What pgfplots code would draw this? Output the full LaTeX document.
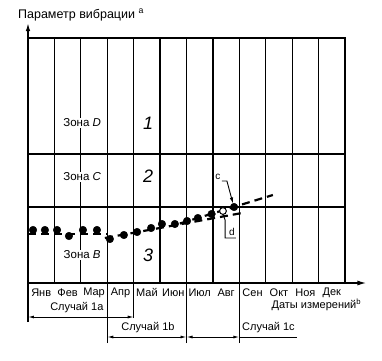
\documentclass[border=0pt]{standalone}
\usepackage{pgfplots}
\pgfplotsset{compat=1.18}
\usepackage{fontspec}
\setmainfont{Liberation Sans}
\usetikzlibrary{arrows.meta}
\begin{document}
\fontsize{11}{13}\selectfont
\begin{tikzpicture}
\path[use as bounding box] (-28pt,-77pt) rectangle (354pt,283pt);
\begin{axis}[at={(0pt,0pt)}, anchor=south west, scale only axis,
  width=317pt, height=245pt, xmin=0, xmax=12, ymin=0, ymax=24.5,
  hide axis, clip=false]
% grid
\draw[line width=1.3pt] (axis cs:0,24.5) -- (axis cs:12,24.5) -- (axis cs:12,0);
\draw[line width=1.2pt] (axis cs:1,0) -- (axis cs:1,24.5);
\draw[line width=1.2pt] (axis cs:2,0) -- (axis cs:2,24.5);
\draw[line width=1.2pt] (axis cs:3,-6) -- (axis cs:3,24.5);
\draw[line width=1.2pt] (axis cs:4,-3.5) -- (axis cs:4,24.5);
\draw[line width=1.2pt] (axis cs:5,0) -- (axis cs:5,24.5);
\draw[line width=1.2pt] (axis cs:6,-6) -- (axis cs:6,24.5);
\draw[line width=1.2pt] (axis cs:7,0) -- (axis cs:7,24.5);
\draw[line width=1.2pt] (axis cs:8,-6) -- (axis cs:8,24.5);
\draw[line width=1.2pt] (axis cs:9,0) -- (axis cs:9,24.5);
\draw[line width=1.2pt] (axis cs:10,0) -- (axis cs:10,24.5);
\draw[line width=1.2pt] (axis cs:11,0) -- (axis cs:11,24.5);
\draw[line width=1.2pt] (axis cs:0,12.9) -- (axis cs:12,12.9);
\draw[line width=1.2pt] (axis cs:0,7.6) -- (axis cs:12,7.6);
\draw[line width=1.2pt] (axis cs:0,-3.9) -- (axis cs:0,0);
% axes with arrows
\draw[line width=1.4pt, -{Latex[length=9pt,width=5pt]}] (axis cs:0,0) -- (axis cs:12.81,0);
\draw[line width=1.4pt, -{Latex[length=8pt,width=4.5pt]}] (axis cs:0,0) -- (axis cs:0,26.0);
% zone labels
\node[fill=white, inner sep=1pt, font=\fontsize{11.5}{13}\selectfont] at (axis cs:2.05,16.0) {Зона \textit{D}};
\node[fill=white, inner sep=1pt, font=\fontsize{11.5}{13}\selectfont] at (axis cs:2.05,10.6) {Зона \textit{C}};
\node[fill=white, inner sep=1pt, font=\fontsize{11.5}{13}\selectfont] at (axis cs:2.05,2.8) {Зона \textit{B}};
\node[font=\fontsize{18}{18}\selectfont\itshape] at (axis cs:4.55,16.0) {1};
\node[font=\fontsize{18}{18}\selectfont\itshape] at (axis cs:4.55,10.7) {2};
\node[font=\fontsize{18}{18}\selectfont\itshape] at (axis cs:4.55,2.8) {3};
% trend lines
\addplot[black, line width=2.2pt, dash pattern=on 8pt off 5pt] coordinates {(0,4.9) (3.0,4.9)};
\addplot[black, line width=2.2pt, dash pattern=on 8pt off 5pt] coordinates {(2.91,4.5) (8.1,7.0)};
\addplot[black, line width=2.2pt, dash pattern=on 8pt off 5pt] coordinates {(5.75,5.95) (9.27,8.8)};
% measurements
\addplot[only marks, mark=*, mark size=3.8pt, black] coordinates {
(0.19,5.3) (0.64,5.3) (1.10,5.3) (1.55,4.7) (2.08,5.3) (2.61,5.3)
(3.10,4.4) (3.63,4.8) (4.13,5.1) (4.66,5.5) (5.07,5.9) (5.56,5.9)
(6.02,6.2) (6.43,6.5) (6.95,6.9) (7.80,7.6)};
\addplot[only marks, mark=*, mark size=3.4pt, black, line width=1pt, mark options={fill=white}] coordinates {(7.38,7.2)};
% annotations c, d
\node[font=\fontsize{10}{10}\selectfont] at (axis cs:7.19,10.6) {c};
\draw[line width=0.9pt, -{Latex[length=6pt,width=3.5pt]}] (axis cs:7.34,10.2) -- (axis cs:7.53,10.2) -- (axis cs:7.76,7.95);
\draw[line width=0.9pt] (axis cs:7.38,6.9) -- (axis cs:7.46,6.3) -- (axis cs:7.46,4.5) -- (axis cs:7.87,4.5);
\node[font=\fontsize{10}{10}\selectfont] at (axis cs:7.72,5.1) {d};
% month labels
\node at (axis cs:0.5,-0.95) {Янв};
\node at (axis cs:1.5,-0.95) {Фев};
\node at (axis cs:2.5,-0.95) {Мар};
\node at (axis cs:3.5,-0.95) {Апр};
\node at (axis cs:4.5,-0.95) {Май};
\node at (axis cs:5.5,-0.95) {Июн};
\node at (axis cs:6.5,-0.95) {Июл};
\node at (axis cs:7.5,-0.95) {Авг};
\node at (axis cs:8.5,-0.95) {Сен};
\node at (axis cs:9.5,-0.95) {Окт};
\node at (axis cs:10.5,-0.95) {Ноя};
\node at (axis cs:11.5,-0.95) {Дек};
\node[anchor=east, inner sep=0pt] at (axis cs:12.62,-2.15) {Даты измерений$^{\mathrm{b}}$};
\node[anchor=west, inner sep=0pt, font=\fontsize{12.5}{14}\selectfont] at (axis cs:-0.38,26.8) {Параметр вибрации $^{\mathrm{a}}$};
% cases
\draw[line width=0.9pt, {Latex[length=6pt,width=3pt]}-{Latex[length=6pt,width=3pt]}] (axis cs:0,-3.4) -- (axis cs:4,-3.4);
\node at (axis cs:1.85,-2.5) {Случай 1a};
\draw[line width=0.9pt, {Latex[length=6pt,width=3pt]}-{Latex[length=6pt,width=3pt]}] (axis cs:3,-5.4) -- (axis cs:6,-5.4);
\node at (axis cs:4.54,-4.5) {Случай 1b};
\draw[line width=0.9pt, {Latex[length=6pt,width=3pt]}-{Latex[length=6pt,width=3pt]}] (axis cs:6,-5.4) -- (axis cs:8,-5.4);
\draw[line width=0.9pt] (axis cs:8,-5.4) -- (axis cs:10.18,-5.4);
\node[anchor=west, inner sep=0pt] at (axis cs:8.1,-4.5) {Случай 1c};
\end{axis}
\end{tikzpicture}
\end{document}
